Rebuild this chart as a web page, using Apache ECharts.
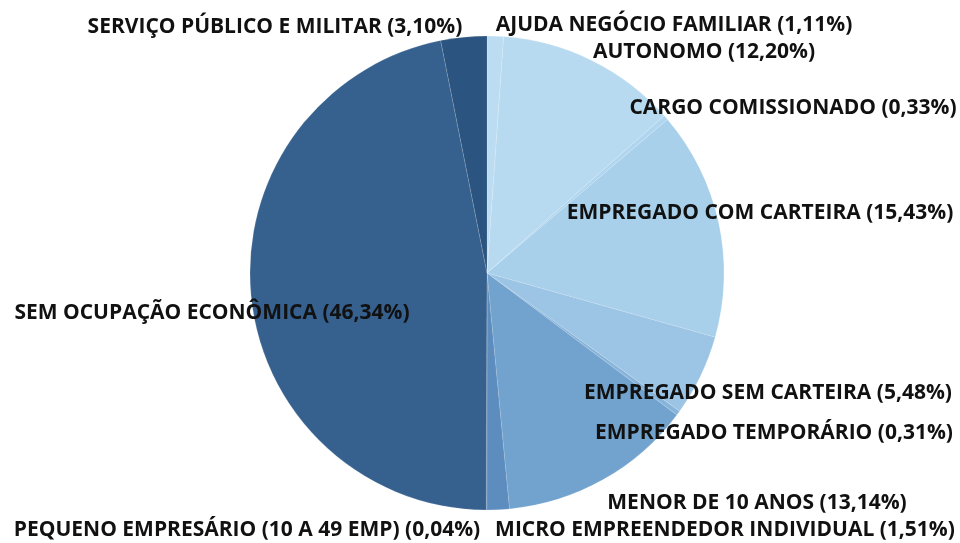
<!DOCTYPE html>
<html>
<head>
<meta charset="utf-8">
<script src="https://cdn.jsdelivr.net/npm/echarts@6/dist/echarts.min.js"></script>
<style>
  html, body { margin: 0; padding: 0; background: #fff; }
  #main { width: 960px; height: 543px; }
</style>
</head>
<body>
<div id="main"></div>
<script>
// categorias e percentuais
var categorias = [
  'AJUDA NEGÓCIO FAMILIAR',
  'AUTONOMO',
  'CARGO COMISSIONADO',
  'EMPREGADO COM CARTEIRA',
  'EMPREGADO SEM CARTEIRA',
  'EMPREGADO TEMPORÁRIO',
  'MENOR DE 10 ANOS',
  'MICRO EMPREENDEDOR INDIVIDUAL',
  'PEQUENO EMPRESÁRIO (10 A 49 EMP)',
  'SEM OCUPAÇÃO ECONÔMICA',
  'SERVIÇO PÚBLICO E MILITAR'
];
var percentuais = [1.11, 12.20, 0.33, 15.43, 5.48, 0.31, 13.14, 1.51, 0.04, 46.34, 3.10];

var cores = ['#BCDDF1', '#B8DAF0', '#B0D5EE', '#A8D0EA', '#9CC4E4', '#88B4DA',
             '#72A3CE', '#5D8DBF', '#4A78AA', '#36608E', '#2B5580'];

// posição (centro) de cada rótulo, como no original
var posRotulos = [
  [674, 25], [704, 52], [793, 108], [760, 213], [768, 393], [774, 433],
  [757, 503], [725, 530], [247, 530], [212, 313], [275, 27]
];

var chartDom = document.getElementById('main');
var myChart = echarts.init(chartDom);

var option = {
  animation: false,
  series: [
    {
      type: 'pie',
      center: [487, 273],
      radius: 237,
      startAngle: 90,
      clockwise: true,
      avoidLabelOverlap: false,
      data: categorias.map(function (c, i) {
        return { name: c, value: percentuais[i], itemStyle: { color: cores[i] } };
      }),
      itemStyle: {
        borderColor: 'rgba(255,255,255,0.25)',
        borderWidth: 0.5
      },
      label: {
        show: true,
        position: 'outside',
        color: '#111',
        fontFamily: 'Open Sans',
        fontWeight: 'bold',
        fontSize: 21,
        formatter: function (p) {
          return p.name + ' (' + p.value.toFixed(2).replace('.', ',') + '%)';
        }
      },
      labelLine: { show: false },
      labelLayout: function (params) {
        var p = posRotulos[params.dataIndex];
        return { x: p[0], y: p[1], align: 'center', verticalAlign: 'middle' };
      }
    }
  ]
};

myChart.setOption(option);
</script>
</body>
</html>
